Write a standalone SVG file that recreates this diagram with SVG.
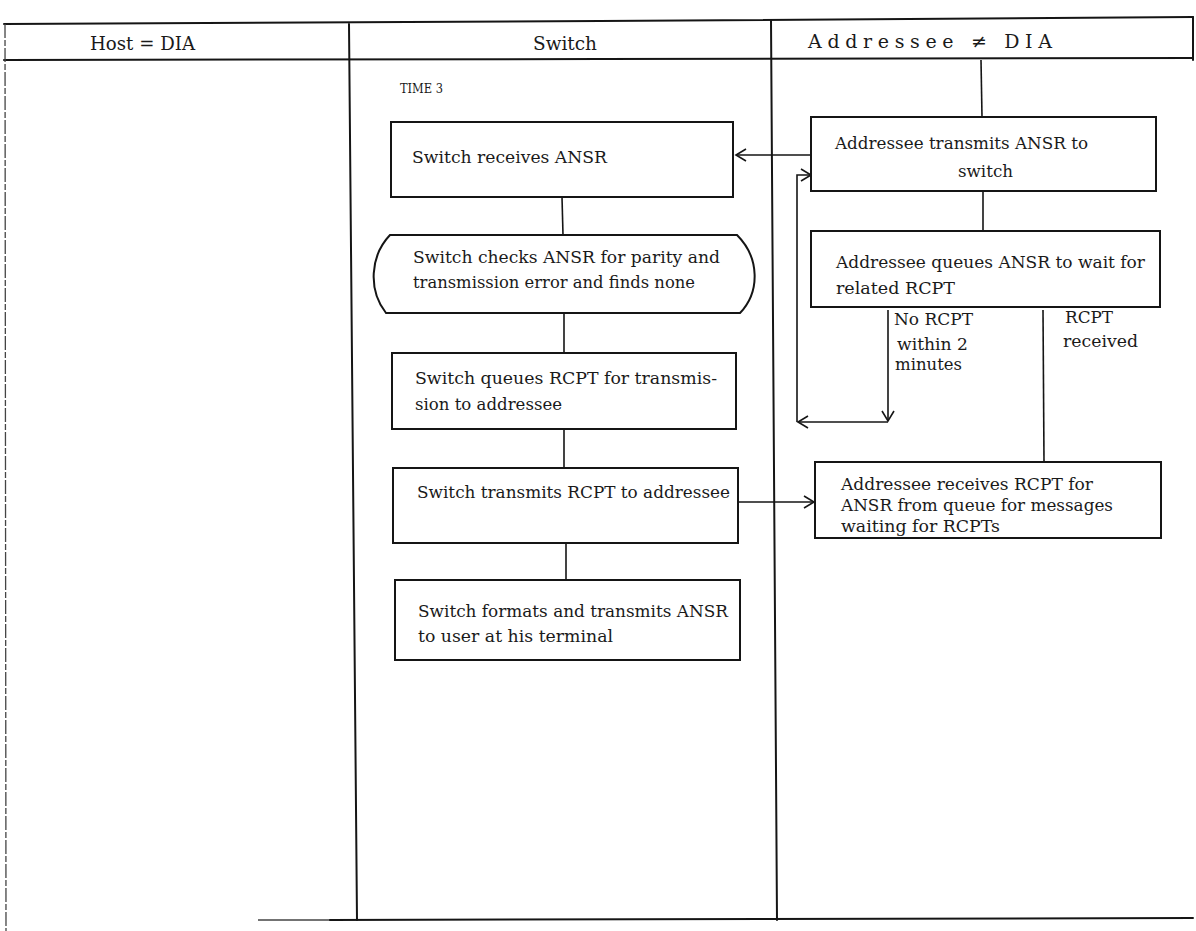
<svg xmlns="http://www.w3.org/2000/svg" width="1196" height="931" viewBox="0 0 1196 931">
  <style>
    .frame { fill: none; stroke: #151515; stroke-width: 2; stroke-linecap: round; }
    .thin { fill: none; stroke: #444; stroke-width: 1.3; }
    .box { fill: #fff; stroke: #151515; stroke-width: 2; }
    .wire { fill: none; stroke: #151515; stroke-width: 1.6; }
    .head { font-family: "DejaVu Serif", "Liberation Serif", serif; font-size: 19px; fill: #1a1a1a; }
    .txt { font-family: "DejaVu Serif", "Liberation Serif", serif; font-size: 16.5px; fill: #1a1a1a; }
    .small { font-family: "DejaVu Serif", "Liberation Serif", serif; font-size: 13px; fill: #1a1a1a; }
  </style>
  <defs>
    <marker id="chev" markerWidth="14" markerHeight="14" refX="11" refY="7" orient="auto" markerUnits="userSpaceOnUse">
      <path d="M1,1 L11,7 L1,13" fill="none" stroke="#151515" stroke-width="1.6"/>
    </marker>
  </defs>

  <rect width="1196" height="931" fill="#fff"/>

  <!-- table frame and swimlane dividers -->
  <g id="frame">
    <path class="frame" d="M4,24 L600,21 L1193,17"/>
    <path class="frame" d="M4,60 L600,59 L1193,58"/>
    <path class="thin" d="M5,24 L6,931" stroke-dasharray="14 2 6 2"/>
    <path class="frame" d="M349,24 L357,920"/>
    <path class="frame" d="M771,20 L777,920"/>
    <path class="frame" d="M1193,17 L1193,60"/>
    <path class="thin" d="M258,920 L330,920" stroke="#999"/>
    <path class="frame" d="M330,920 L1193,918"/>
  </g>

  <!-- lane headings -->
  <g id="headings">
    <text class="head" x="90" y="50" textLength="105" lengthAdjust="spacingAndGlyphs">Host = DIA</text>
    <text class="head" x="533" y="50" textLength="64" lengthAdjust="spacingAndGlyphs">Switch</text>
    <text class="head" x="808" y="48" textLength="244" lengthAdjust="spacing">Addressee ≠ DIA</text>
    <text class="small" x="400" y="93" textLength="43" lengthAdjust="spacingAndGlyphs">TIME 3</text>
  </g>

  <!-- connectors -->
  <g id="connectors">
    <path class="wire" d="M981,60 L982,117"/>
    <path class="wire" d="M811,155 L736,155" marker-end="url(#chev)"/>
    <path class="wire" d="M562,197 L563,235"/>
    <path class="wire" d="M983,191 L983,231"/>
    <path class="wire" d="M564,313 L564,353"/>
    <path class="wire" d="M564,429 L564,468"/>
    <path class="wire" d="M566,543 L566,580"/>
    <path class="wire" d="M888,310 L888,421" marker-end="url(#chev)"/>
    <path class="wire" d="M888,422 L798,422" marker-end="url(#chev)"/>
    <path class="wire" d="M797,422 L797,175 L811,175" marker-end="url(#chev)"/>
    <path class="wire" d="M1043,310 L1044,462"/>
    <path class="wire" d="M738,502 L814,502" marker-end="url(#chev)"/>
  </g>

  <!-- Switch lane -->
  <g id="switch-receives">
    <rect class="box" x="391" y="122" width="342" height="75"/>
    <text class="txt" x="412" y="163" textLength="195" lengthAdjust="spacingAndGlyphs">Switch receives ANSR</text>
  </g>
  <g id="switch-checks">
    <path class="box" d="M390,235 L737,235 C760,258 760,292 740,313 L386,313 C368,290 370,256 390,235 Z"/>
    <text class="txt" x="413" y="263" textLength="307" lengthAdjust="spacingAndGlyphs">Switch checks ANSR for parity and</text>
    <text class="txt" x="413" y="288" textLength="282" lengthAdjust="spacingAndGlyphs">transmission error and finds none</text>
  </g>
  <g id="switch-queues">
    <rect class="box" x="392" y="353" width="344" height="76"/>
    <text class="txt" x="415" y="384" textLength="302" lengthAdjust="spacingAndGlyphs">Switch queues RCPT for transmis-</text>
    <text class="txt" x="415" y="410" textLength="147" lengthAdjust="spacingAndGlyphs">sion to addressee</text>
  </g>
  <g id="switch-transmits">
    <rect class="box" x="393" y="468" width="345" height="75"/>
    <text class="txt" x="417" y="498" textLength="313" lengthAdjust="spacingAndGlyphs">Switch transmits RCPT to addressee</text>
  </g>
  <g id="switch-formats">
    <rect class="box" x="395" y="580" width="345" height="80"/>
    <text class="txt" x="418" y="617" textLength="310" lengthAdjust="spacingAndGlyphs">Switch formats and transmits ANSR</text>
    <text class="txt" x="418" y="642" textLength="195" lengthAdjust="spacingAndGlyphs">to user at his terminal</text>
  </g>

  <!-- Addressee lane -->
  <g id="addressee-transmits">
    <rect class="box" x="811" y="117" width="345" height="74"/>
    <text class="txt" x="835" y="149" textLength="253" lengthAdjust="spacingAndGlyphs">Addressee transmits ANSR to</text>
    <text class="txt" x="958" y="177" textLength="55" lengthAdjust="spacingAndGlyphs">switch</text>
  </g>
  <g id="addressee-queues">
    <rect class="box" x="811" y="231" width="349" height="76"/>
    <text class="txt" x="836" y="268" textLength="309" lengthAdjust="spacingAndGlyphs">Addressee queues ANSR to wait for</text>
    <text class="txt" x="836" y="294" textLength="119" lengthAdjust="spacingAndGlyphs">related RCPT</text>
  </g>
  <g id="branch-labels">
    <text class="txt" x="894" y="325" textLength="79" lengthAdjust="spacingAndGlyphs">No RCPT</text>
    <text class="txt" x="897" y="350" textLength="71" lengthAdjust="spacingAndGlyphs">within 2</text>
    <text class="txt" x="895" y="370" textLength="67" lengthAdjust="spacingAndGlyphs">minutes</text>
    <text class="txt" x="1065" y="323" textLength="48" lengthAdjust="spacingAndGlyphs">RCPT</text>
    <text class="txt" x="1063" y="347" textLength="75" lengthAdjust="spacingAndGlyphs">received</text>
  </g>
  <g id="addressee-receives">
    <rect class="box" x="815" y="462" width="346" height="76"/>
    <text class="txt" x="841" y="490" textLength="252" lengthAdjust="spacingAndGlyphs">Addressee receives RCPT for</text>
    <text class="txt" x="841" y="511" textLength="272" lengthAdjust="spacingAndGlyphs">ANSR from queue for messages</text>
    <text class="txt" x="841" y="532" textLength="159" lengthAdjust="spacingAndGlyphs">waiting for RCPTs</text>
  </g>
</svg>
